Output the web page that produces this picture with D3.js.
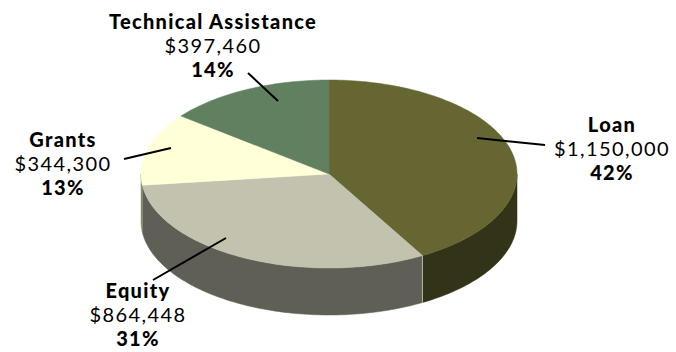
<!DOCTYPE html>
<head>
  <meta charset="utf-8">
  <script src="https://cdn.jsdelivr.net/npm/d3@7"></script>
  <style>
    body { margin: 0; background: #fff; }
    text { font-family: Lato, "Open Sans", sans-serif; fill: #000; }
  </style>
</head>
<body>
  <div id="chartDiv"></div>
  <script>

    // data, clockwise from 12 o'clock
    var categories = ["Loan", "Equity", "Grants", "Technical Assistance"];
    var amounts = [1150000, 864448, 344300, 397460];
    var percentLabels = ["42%", "31%", "13%", "14%"];
    var topColors = ["#666633", "#c2c2ae", "#ffffd8", "#608060"];
    var sideColors = ["#333319", "#5f5f55", "#8a8a72", "#3e523e"];

    // where each label sits and where its leader line runs
    var labelLayout = [
      {x: 612, y: 132, line: [[477, 138], [545, 145]]},
      {x: 138, y: 298, line: [[226, 238], [153, 280]]},
      {x: 63,  y: 147, line: [[171, 148], [124, 159]]},
      {x: 213, y: 29,  line: [[278, 101], [248, 73]]}
    ];

    var width = 676, height = 352;
    var cx = 329, cy = 174, rx = 188, ry = 94, depth = 47;

    var svg = d3.select("#chartDiv").append("svg")
        .attr("width", width)
        .attr("height", height);

    var pie = d3.pie().sort(null).startAngle(0).endAngle(2 * Math.PI);
    var arcs = pie(amounts);

    function pt(a, dy) {
      return [cx + rx * Math.sin(a), cy - ry * Math.cos(a) + (dy || 0)];
    }

    function arcPoints(a0, a1, dy) {
      var n = Math.max(2, Math.ceil((a1 - a0) / 0.02));
      var out = [];
      for (var k = 0; k <= n; k++) out.push(pt(a0 + (a1 - a0) * k / n, dy));
      return out;
    }

    var line = d3.line();

    // side walls (only the front half is visible)
    arcs.forEach(function(d, i) {
      var a0 = Math.max(d.startAngle, Math.PI / 2);
      var a1 = Math.min(d.endAngle, 3 * Math.PI / 2);
      if (a1 <= a0) return;
      var top = arcPoints(a0, a1, 0);
      var bottom = arcPoints(a0, a1, depth).reverse();
      svg.append("path")
          .attr("d", line(top.concat(bottom)) + "Z")
          .style("fill", sideColors[i])
          .style("stroke", sideColors[i])
          .style("stroke-width", 0.5);
    });

    // slice tops
    arcs.forEach(function(d, i) {
      var pts = [[cx, cy]].concat(arcPoints(d.startAngle, d.endAngle, 0));
      svg.append("path")
          .attr("d", line(pts) + "Z")
          .style("fill", topColors[i])
          .style("stroke", topColors[i])
          .style("stroke-width", 0.5);
    });

    // a thin light seam between the loan and equity walls
    svg.append("line")
        .attr("x1", pt(arcs[0].endAngle)[0]).attr("y1", pt(arcs[0].endAngle)[1])
        .attr("x2", pt(arcs[0].endAngle)[0]).attr("y2", pt(arcs[0].endAngle, depth)[1])
        .style("stroke", "#cfcfc0")
        .style("stroke-width", 0.8);

    // leader lines
    labelLayout.forEach(function(l) {
      svg.append("path")
          .attr("d", line(l.line))
          .style("stroke", "#000")
          .style("stroke-width", 2)
          .style("fill", "none");
    });

    var fmt = d3.format("$,");

    categories.forEach(function(c, i) {
      var l = labelLayout[i];
      var t = svg.append("text")
          .attr("text-anchor", "middle")
          .style("font-size", "20px");
      t.append("tspan")
          .attr("x", l.x).attr("y", l.y)
          .style("font-weight", 900)
          .style("letter-spacing", "1.3px")
          .text(c);
      t.append("tspan")
          .attr("x", l.x).attr("y", l.y + 24)
          .style("font-weight", 400)
          .style("letter-spacing", "1.4px")
          .text(fmt(amounts[i]));
      t.append("tspan")
          .attr("x", l.x).attr("y", l.y + 48)
          .style("font-weight", 900)
          .style("letter-spacing", "1.3px")
          .text(percentLabels[i]);
    });

  </script>
</body>
